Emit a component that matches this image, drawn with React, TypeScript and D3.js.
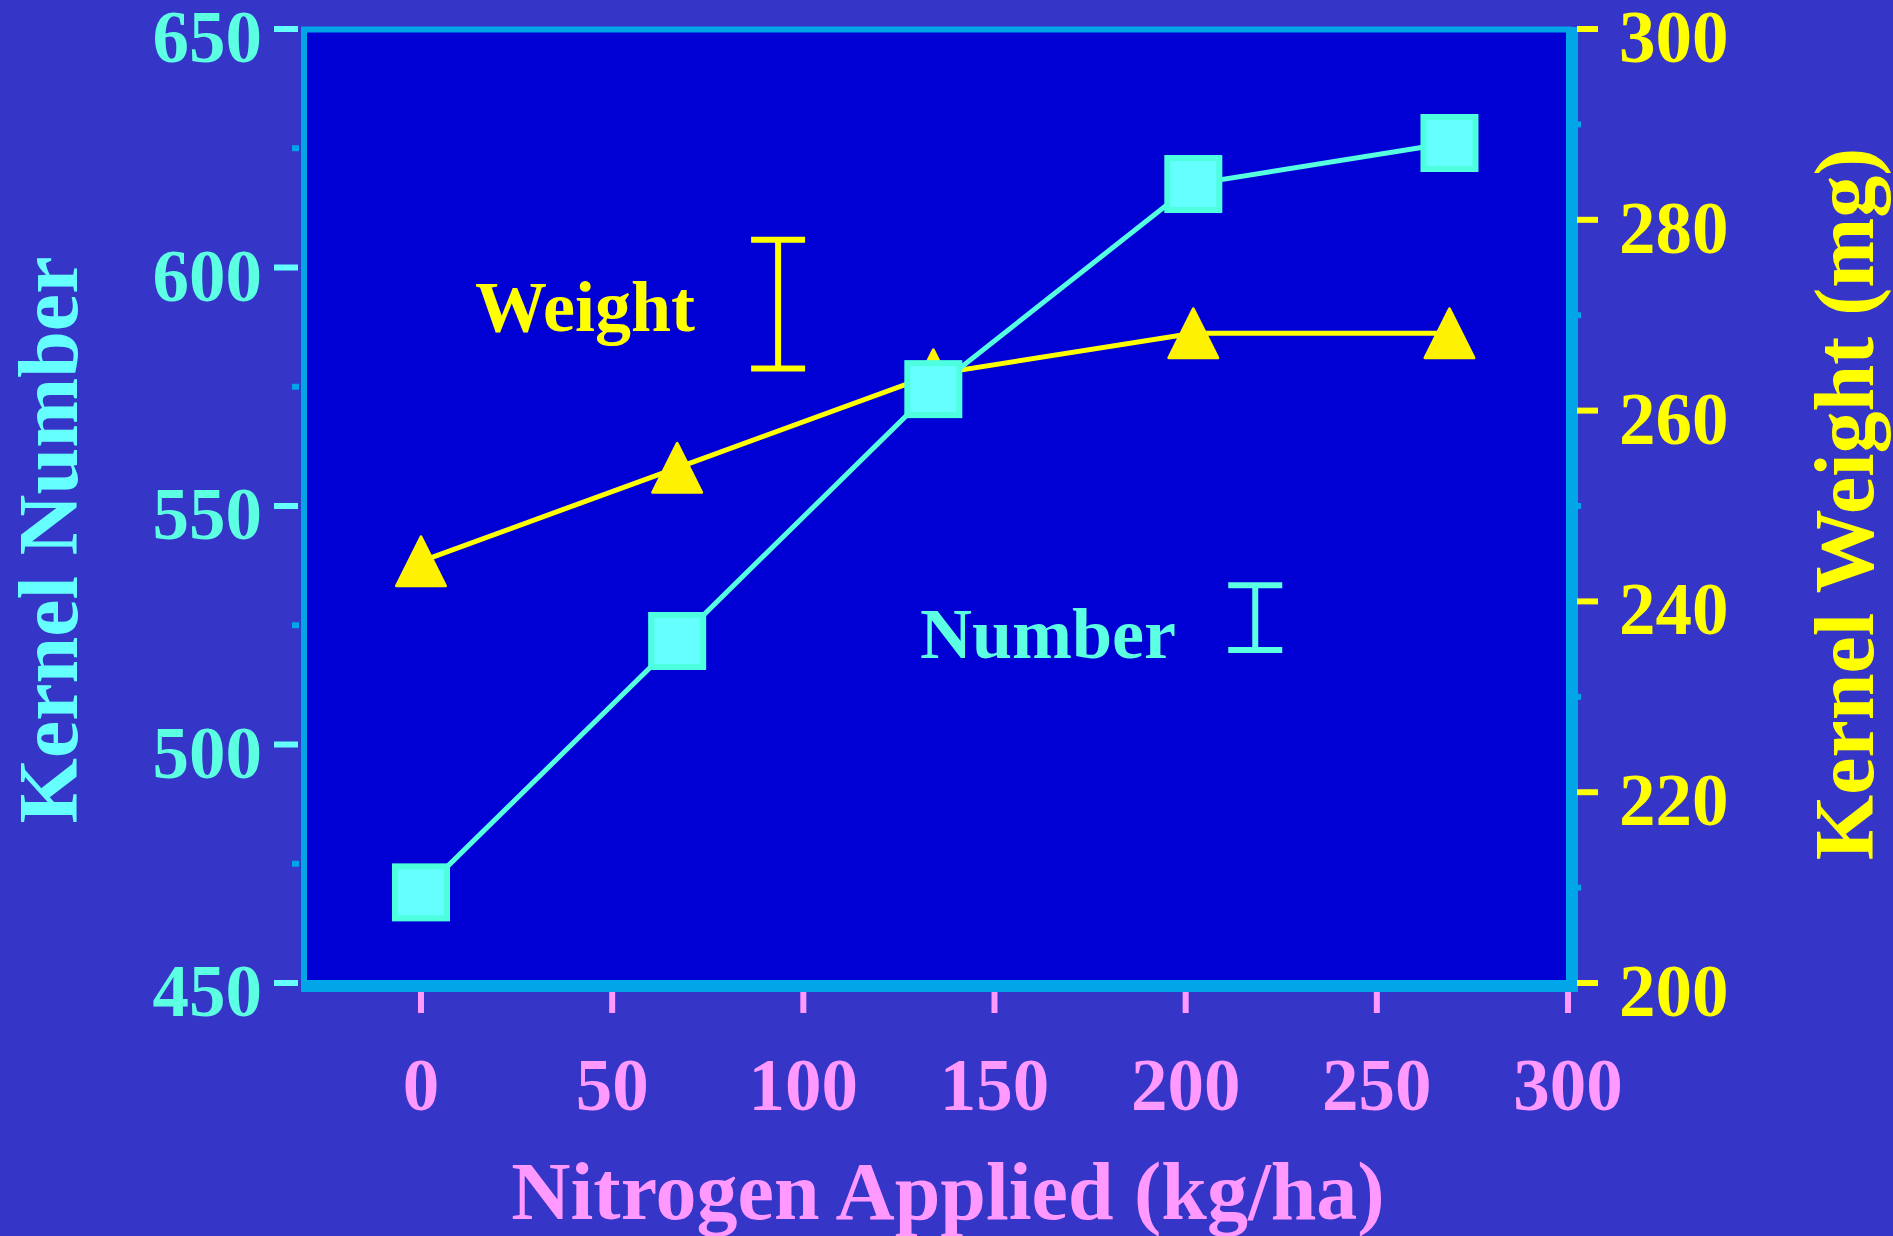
import { line, scaleLinear } from "d3"

// kernel data (N in kg/ha)
const nitrogen = [0, 67, 134, 202, 269]
const kernelNumber = [469, 521.7, 574.5, 617.5, 626.1]
const kernelWeight = [244.2, 254.0, 263.8, 268.1, 268.1]

const xTicks = [0, 50, 100, 150, 200, 250, 300]
const numberTicks = [450, 500, 550, 600, 650]
const numberMinor = [475, 525, 575, 625]
const weightTicks = [200, 220, 240, 260, 280, 300]
const weightMinor = [210, 230, 250, 270, 290]

// LSD bars: [x position, low, high]
const weightLsd = [93.4, 264.4, 277.9]
const numberLsd = [218.2, 519.8, 533.4]

const font = "'Liberation Serif', 'Times New Roman', serif"
const bg = '#3535c8'
const plotFill = '#0000d4'
const frame = '#00a6e8'
const cyan = '#5cffe2'
const yellow = '#ffff00'
const pink = '#ff99ff'

const App = () => {
    const W = 1893
    const H = 1236

    const x = scaleLinear().domain([0, 300]).range([421, 1568])
    const yN = scaleLinear().domain([450, 650]).range([983, 29])
    const yW = scaleLinear().domain([200, 300]).range([983, 29])

    const left = 304, right = 1569, top = 29.5, bottom = 983

    const numberLine = line<number>()
        .x((d, i) => x(nitrogen[i]))
        .y(d => yN(d))
    const weightLine = line<number>()
        .x((d, i) => x(nitrogen[i]))
        .y(d => yW(d))

    const tri = (cx: number, cy: number) => {
        const h = 24.5
        return `M${cx},${cy - h}L${cx + h},${cy + h}L${cx - h},${cy + h}Z`
    }

    return (
        <svg width={W} height={H} style={{ position: 'absolute', left: 0, top: 0 }}
            fontFamily={font} fontWeight="bold">
            <rect x={0} y={0} width={W} height={H} fill={bg} />

            {/* plot box */}
            <rect x={left} y={top} width={right - left} height={bottom - top}
                fill={plotFill} stroke={frame} strokeWidth={6} />
            <line x1={301} x2={1578} y1={989} y2={989} stroke={frame} strokeWidth={6} />
            <line x1={1575} x2={1575} y1={27} y2={992} stroke={frame} strokeWidth={6} />

            {/* left axis */}
            {numberTicks.map(t => (
                <g key={'n' + t}>
                    <line x1={274} x2={298} y1={yN(t)} y2={yN(t)} stroke="#66ffff" strokeWidth={6} />
                    <text x={262} y={yN(t) + 33} textAnchor="end" fontSize={73} fill={cyan}>{t}</text>
                </g>
            ))}
            {numberMinor.map(t => (
                <line key={'nm' + t} x1={292} x2={299} y1={yN(t)} y2={yN(t)} stroke={frame} strokeWidth={6} />
            ))}

            {/* right axis */}
            {weightTicks.map(t => (
                <g key={'w' + t}>
                    <line x1={1577} x2={1598} y1={yW(t)} y2={yW(t)} stroke={yellow} strokeWidth={6} />
                    <text x={1619} y={yW(t) + 33} fontSize={73} fill={yellow}>{t}</text>
                </g>
            ))}
            {weightMinor.map(t => (
                <line key={'wm' + t} x1={1576} x2={1581} y1={yW(t)} y2={yW(t)} stroke={frame} strokeWidth={6} />
            ))}

            {/* bottom axis */}
            {xTicks.map(t => (
                <g key={'x' + t}>
                    <line x1={x(t)} x2={x(t)} y1={992} y2={1013} stroke={pink} strokeWidth={6} />
                    <text x={x(t)} y={1110} textAnchor="middle" fontSize={73} fill={pink}>{t}</text>
                </g>
            ))}

            <text x={948} y={1219} textAnchor="middle" fontSize={82} fill={pink}>Nitrogen Applied (kg/ha)</text>
            <text transform="translate(77,540) rotate(-90)" textAnchor="middle" fontSize={84} fill="#66ffff">Kernel Number</text>
            <text transform="translate(1873,504) rotate(-90)" textAnchor="middle" fontSize={84} fill={yellow}>Kernel Weight (mg)</text>

            {/* weight series */}
            <path d={weightLine(kernelWeight) ?? ''} fill="none" stroke={yellow} strokeWidth={5} />
            {kernelWeight.map((v, i) => (
                <path key={'t' + i} d={tri(x(nitrogen[i]), yW(v))} fill="#fff200"
                    stroke="#fff200" strokeWidth={3} strokeLinejoin="round" />
            ))}

            {/* number series */}
            <path d={numberLine(kernelNumber) ?? ''} fill="none" stroke="#55ffe0" strokeWidth={5} />
            {kernelNumber.map((v, i) => (
                <rect key={'s' + i} x={x(nitrogen[i]) - 26} y={yN(v) - 26} width={52} height={52}
                    fill="#66ffff" stroke="#4dffdf" strokeWidth={6} />
            ))}

            {/* legend labels with LSD bars */}
            <text x={x(14.1)} y={yW(268.3)} fontSize={72} fill={yellow}>Weight</text>
            <g stroke={yellow} strokeWidth={6}>
                <line x1={x(weightLsd[0])} x2={x(weightLsd[0])} y1={yW(weightLsd[1])} y2={yW(weightLsd[2])} />
                <line x1={x(weightLsd[0]) - 27} x2={x(weightLsd[0]) + 27} y1={yW(weightLsd[1])} y2={yW(weightLsd[1])} />
                <line x1={x(weightLsd[0]) - 27} x2={x(weightLsd[0]) + 27} y1={yW(weightLsd[2])} y2={yW(weightLsd[2])} />
            </g>

            <text x={x(130.5)} y={yN(518.1)} fontSize={72} fill={cyan}>Number</text>
            <g stroke={cyan} strokeWidth={6}>
                <line x1={x(numberLsd[0])} x2={x(numberLsd[0])} y1={yN(numberLsd[1])} y2={yN(numberLsd[2])} />
                <line x1={x(numberLsd[0]) - 27} x2={x(numberLsd[0]) + 27} y1={yN(numberLsd[1])} y2={yN(numberLsd[1])} />
                <line x1={x(numberLsd[0]) - 27} x2={x(numberLsd[0]) + 27} y1={yN(numberLsd[2])} y2={yN(numberLsd[2])} />
            </g>
        </svg>
    )
}

export default App
